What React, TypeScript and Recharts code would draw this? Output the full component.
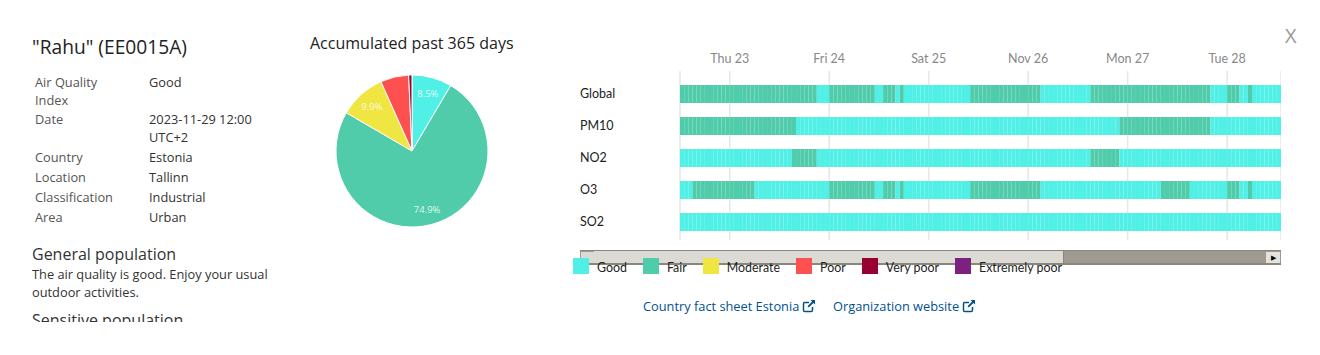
import { Bar, BarChart, CartesianGrid, Cell, Pie, PieChart, XAxis, YAxis } from "recharts";

const COLORS = ["#50f0e6", "#50ccaa", "#f0e641", "#ff5050", "#960032", "#7d2181"];
const LEVELS = ["Good", "Fair", "Moderate", "Poor", "Very poor", "Extremely poor"];

// hours in each run, read left to right; the levels alternate from the first one
const globalRuns = [33, 3, 11, 2, 3, 1, 1, 16, 17, 12, 29, 4, 3, 2, 1, 7];
const pm10Runs = [28, 78, 22, 17];
const no2Runs = [27, 6, 66, 7, 39];
const o3Runs = [3, 15, 18, 11, 2, 3, 1, 1, 16, 17, 29, 7, 9, 3, 2, 1, 7];
const so2Runs = [145];

const stations = ["Global", "PM10", "NO2", "O3", "SO2"];
const firstLevel = [1, 1, 0, 0, 0];
const allRuns = [globalRuns, pm10Runs, no2Runs, o3Runs, so2Runs];

const tickHours = [12, 36, 60, 84, 108, 132];
const tickLabels = ["Thu 23", "Fri 24", "Sat 25", "Nov 26", "Mon 27", "Tue 28"];
const HOURS = 145;

const pieLevels = ["Good", "Fair", "Moderate", "Poor", "Very poor"];
const pieValues = [8.5, 74.9, 9.9, 6.0, 0.7];

const infoLabels = ["Country", "Location", "Classification", "Area"];
const infoValues = ["Estonia", "Tallinn", "Industrial", "Urban"];
const infoTops = [148, 168, 188, 208];

const expandRuns = (runs: number[], start: number) => {
  const out: number[] = [];
  runs.forEach((len, i) => {
    for (let k = 0; k < len; k++) out.push(i % 2 === 0 ? start : 1 - start);
  });
  return out;
};

const hourLevels = allRuns.map((runs, i) => expandRuns(runs, firstLevel[i]));
const hourKeys = Array.from({ length: HOURS }, (_, i) => `h${i}`);

const rows = stations.map((name) => {
  const row: Record<string, any> = { name };
  hourKeys.forEach((k) => (row[k] = 1));
  return row;
});

const pieData = pieLevels.map((name, i) => ({ name, value: pieValues[i] }));

const MULI = "Lato, sans-serif";
const OPEN = "'Open Sans', sans-serif";

const StationTick = ({ x, y, payload }: any) => (
  <text x={x - 92} y={y + 4} textAnchor="start" fontSize={12.5} fontFamily={MULI} fill="#222">
    {payload.value}
  </text>
);

const renderPieLabel = ({ cx, cy, midAngle, value }: any) => {
  if (value < 8) return null;
  const rad = (midAngle * Math.PI) / 180;
  return (
    <text
      x={cx + 60 * Math.cos(rad)}
      y={cy - 60 * Math.sin(rad)}
      textAnchor="middle"
      dominantBaseline="central"
      fontSize={9.5}
      fontFamily={OPEN}
      fill="#fff"
      fillOpacity={0.85}
    >
      {value}%
    </text>
  );
};

const LinkIcon = () => (
  <svg width="14" height="14" viewBox="0 0 14 14" style={{ marginLeft: 3, verticalAlign: -2 }}>
    <path d="M10.5 8v3.2a1.3 1.3 0 0 1-1.3 1.3H2.8a1.3 1.3 0 0 1-1.3-1.3V4.8a1.3 1.3 0 0 1 1.3-1.3H7" fill="none" stroke="#00528f" strokeWidth="1.5" />
    <path d="M8.5 1h4.5v4.5l-1.6-1.6-4.6 4.6-1.3-1.3 4.6-4.6z" fill="#00528f" />
  </svg>
);

const abs = (left: number, top: number, style: any = {}) => ({ position: "absolute" as const, left, top, ...style });

const Scrollbar = () => (
  <div style={abs(580, 250, { width: 701, height: 15, background: "#9e9a91", boxShadow: "inset 0 1px 0 #8a867c, inset 0 -2px 0 #8a867c" })}>
    <div style={abs(1, 2, { width: 13, height: 11, background: "#dcdad5", borderRight: "1px solid #aaa" })} />
    <div style={abs(14, 1, { width: 469, height: 12, background: "#dcdad5", borderRight: "1px solid #8a867c" })} />
    <div style={abs(686, 2, { width: 14, height: 11, background: "#e4e2dd", textAlign: "center", fontSize: 7, lineHeight: "11px", color: "#000" })}>▶</div>
  </div>
);

const App = () => {
  return (
    <div style={{ position: "absolute", left: 0, top: 0, width: 1320, height: 355, background: "#fff", overflow: "hidden", fontFamily: OPEN, fontSize: 12.8, color: "#333" }}>
      {/* left info panel */}
      <div style={abs(32, 33, { fontSize: 19.2, color: "#222", lineHeight: "28px" })}>"Rahu" (EE0015A)</div>
      <div style={abs(35, 73, { width: 95, lineHeight: "18px", color: "#555" })}>Air Quality Index</div>
      <div style={abs(149, 73, { lineHeight: "18px" })}>Good</div>
      <div style={abs(35, 110, { lineHeight: "18px", color: "#555" })}>Date</div>
      <div style={abs(149, 110, { width: 115, lineHeight: "18px" })}>2023-11-29 12:00 UTC+2</div>
      {infoLabels.map((label, i) => (
        <div key={label}>
          <div style={abs(35, infoTops[i], { lineHeight: "18px", color: "#555" })}>{label}</div>
          <div style={abs(149, infoTops[i], { lineHeight: "18px" })}>{infoValues[i]}</div>
        </div>
      ))}
      <div style={abs(32, 0, { width: 250, height: 322, overflow: "hidden" })}>
        <div style={abs(0, 243, { fontSize: 16, lineHeight: "22px" })}>General population</div>
        <div style={abs(0, 265, { width: 245, lineHeight: "18px" })}>The air quality is good. Enjoy your usual outdoor activities.</div>
        <div style={abs(0, 309, { fontSize: 16, lineHeight: "22px", whiteSpace: "nowrap" })}>Sensitive population</div>
      </div>

      {/* accumulated pie */}
      <div style={abs(310, 32, { fontSize: 16, lineHeight: "22px", color: "#222", whiteSpace: "nowrap" })}>Accumulated past 365 days</div>
      <div style={abs(332, 71)}>
        <PieChart width={160} height={160} margin={{ top: 0, right: 0, bottom: 0, left: 0 }}>
          <Pie
            data={pieData}
            dataKey="value"
            cx={80}
            cy={80}
            outerRadius={76}
            startAngle={90}
            endAngle={-270}
            stroke="#fff"
            strokeWidth={1}
            label={renderPieLabel}
            labelLine={false}
            isAnimationActive={false}
          >
            {pieData.map((_, i) => (
              <Cell key={i} fill={COLORS[i]} />
            ))}
          </Pie>
        </PieChart>
      </div>

      {/* hourly timeline */}
      <div style={abs(580, 40)}>
        <BarChart
          width={701}
          height={200}
          data={rows}
          layout="vertical"
          margin={{ top: 0, right: 0, bottom: 0, left: 0 }}
          barCategoryGap={14}
        >
          <CartesianGrid horizontal={false} stroke="#e6e6e6" strokeWidth={1.5} />
          <XAxis
            type="number"
            orientation="top"
            height={31}
            domain={[0, HOURS]}
            ticks={tickHours}
            tickFormatter={(v: number) => tickLabels[tickHours.indexOf(v)]}
            axisLine={false}
            tickLine={false}
            tick={{ fontSize: 12.5, fontFamily: MULI, fill: "#888" }}
            interval={0}
          />
          <YAxis
            type="category"
            dataKey="name"
            width={100}
            padding={{ top: 7, bottom: 2 }}
            axisLine={false}
            tickLine={false}
            tick={<StationTick />}
            interval={0}
          />
          {hourKeys.map((key, h) => (
            <Bar key={key} dataKey={key} stackId="hours" barSize={18} isAnimationActive={false}>
              {stations.map((name, s) => (
                <Cell key={name} fill={COLORS[hourLevels[s][h]]} />
              ))}
            </Bar>
          ))}
        </BarChart>
      </div>

      <Scrollbar />

      {/* legend sits over the scrollbar, same as the source page */}
      <div style={abs(573, 258, { display: "flex", gap: 16, fontFamily: MULI, fontSize: 12.4, lineHeight: "18px", color: "#222", whiteSpace: "nowrap" })}>
        {LEVELS.map((level, i) => (
          <div key={level} style={{ display: "flex" }}>
            <div style={{ width: 16, height: 16, background: COLORS[i], marginRight: 8 }} />
            <span style={{ position: "relative", top: 1 }}>{level}</span>
          </div>
        ))}
      </div>

      <div style={abs(643, 297, { color: "#00528f", fontSize: 12.8, lineHeight: "18px", whiteSpace: "nowrap" })}>
        Country fact sheet Estonia
        <LinkIcon />
      </div>
      <div style={abs(833, 297, { color: "#00528f", fontSize: 12.8, lineHeight: "18px", whiteSpace: "nowrap" })}>
        Organization website
        <LinkIcon />
      </div>

      <div style={abs(1285, 23, { fontSize: 20, lineHeight: "26px", color: "#999" })}>X</div>
    </div>
  );
};

export default App;
